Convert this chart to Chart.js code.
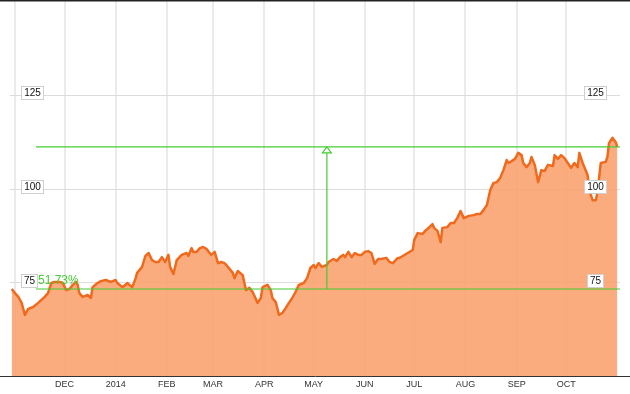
<!DOCTYPE html>
<html><head><meta charset="utf-8">
<script src="https://cdn.jsdelivr.net/npm/chart.js@4.4.1/dist/chart.umd.min.js"></script>
<style>html,body{margin:0;padding:0;background:#fff;overflow:hidden}#wrap{position:relative;width:630px;height:394px}</style>
</head><body><div id="wrap"><canvas id="c" width="630" height="394"></canvas></div>
<script>
const dates = [
'2013-10-30','2013-11-01','2013-11-03','2013-11-05','2013-11-07','2013-11-09','2013-11-12','2013-11-15','2013-11-17','2013-11-19',
'2013-11-21','2013-11-23','2013-11-25','2013-11-28','2013-11-30','2013-12-02','2013-12-04','2013-12-06','2013-12-08','2013-12-09',
'2013-12-10','2013-12-12','2013-12-15','2013-12-17','2013-12-18','2013-12-21','2013-12-23','2013-12-26','2013-12-29','2014-01-01',
'2014-01-02','2014-01-05','2014-01-07','2014-01-08','2014-01-11','2014-01-13','2014-01-14','2014-01-17','2014-01-19','2014-01-21',
'2014-01-23','2014-01-25','2014-01-27','2014-01-29','2014-01-31','2014-02-02','2014-02-03','2014-02-05','2014-02-07','2014-02-10',
'2014-02-13','2014-02-14','2014-02-16','2014-02-17','2014-02-19','2014-02-21','2014-02-23','2014-02-25','2014-02-27','2014-02-28',
'2014-03-02','2014-03-04','2014-03-06','2014-03-08','2014-03-10','2014-03-13','2014-03-14','2014-03-16','2014-03-19','2014-03-20',
'2014-03-21','2014-03-23','2014-03-25','2014-03-28','2014-03-30','2014-03-31','2014-04-03','2014-04-05','2014-04-06','2014-04-08',
'2014-04-10','2014-04-12','2014-04-14','2014-04-16','2014-04-18','2014-04-20','2014-04-22','2014-04-25','2014-04-27','2014-04-29',
'2014-05-01','2014-05-02','2014-05-04','2014-05-06','2014-05-09','2014-05-10','2014-05-13','2014-05-15','2014-05-17','2014-05-19',
'2014-05-20','2014-05-22','2014-05-24','2014-05-26','2014-05-28','2014-05-30','2014-06-01','2014-06-03','2014-06-05','2014-06-07',
'2014-06-09','2014-06-11','2014-06-14','2014-06-16','2014-06-18','2014-06-21','2014-06-22','2014-06-24','2014-06-27','2014-06-30',
'2014-07-01','2014-07-03','2014-07-06','2014-07-08','2014-07-09','2014-07-12','2014-07-13','2014-07-15','2014-07-17','2014-07-18',
'2014-07-21','2014-07-23','2014-07-25','2014-07-27','2014-07-29','2014-07-31','2014-08-03','2014-08-06','2014-08-08','2014-08-10',
'2014-08-12','2014-08-14','2014-08-16','2014-08-18','2014-08-20','2014-08-22','2014-08-24','2014-08-26','2014-08-27','2014-08-29',
'2014-08-31','2014-09-02','2014-09-04','2014-09-05','2014-09-07','2014-09-09','2014-09-10','2014-09-12','2014-09-14','2014-09-16',
'2014-09-18','2014-09-20','2014-09-23','2014-09-24','2014-09-26','2014-09-28','2014-09-30','2014-10-02','2014-10-04','2014-10-06',
'2014-10-08','2014-10-09','2014-10-11','2014-10-14','2014-10-15','2014-10-17','2014-10-19','2014-10-20','2014-10-22','2014-10-25',
'2014-10-26','2014-10-27','2014-10-29','2014-10-31','2014-11-01'
];
const prices = [
73.2,72.1,71.1,69.5,66.3,67.9,68.4,69.5,70.3,71.1,
72.1,74.8,75.1,75.1,74.8,72.9,73.2,74.3,75.1,74.3,
72.1,71.1,71.6,70.8,73.7,74.8,75.3,75.6,75.1,75.6,
74.8,73.7,74.3,74.8,73.7,75.9,77.5,79.1,82.0,82.8,
80.9,80.4,80.4,81.7,80.4,82.3,79.1,77.2,80.9,82.3,
82.8,82.0,84.1,83.1,83.1,84.1,84.4,83.9,82.8,82.3,
83.1,80.1,80.4,80.1,79.1,77.5,76.1,78.0,76.9,74.8,
72.9,73.5,72.4,69.5,70.8,73.7,74.3,72.9,70.8,69.7,
66.3,66.8,68.1,69.5,70.8,72.4,74.3,74.8,76.1,78.8,
79.6,78.8,80.1,79.1,79.6,80.4,81.2,80.7,81.7,82.3,
81.7,83.1,81.7,82.8,82.3,82.3,83.1,83.3,82.8,79.9,
81.2,81.2,81.5,80.4,80.1,81.5,81.5,82.0,82.8,83.6,
86.3,88.1,87.9,88.9,89.2,90.5,89.5,88.7,85.7,89.5,
89.7,90.8,90.8,92.1,94.0,92.1,92.7,92.9,93.2,93.2,
94.3,95.6,99.6,101.5,101.7,102.8,104.9,107.6,106.8,107.3,
107.9,109.5,108.9,106.8,105.7,106.8,108.4,106.3,101.7,104.9,
104.7,106.3,106.0,108.9,107.9,108.9,108.1,106.8,105.5,106.8,
105.7,109.5,106.8,103.6,99.6,96.9,96.9,99.1,106.8,107.1,
108.4,112.1,113.5,112.4,111.1
];
const monthStarts = ['2013-11-01','2013-12-01','2014-01-01','2014-02-01','2014-03-01','2014-04-01','2014-05-01','2014-06-01','2014-07-01','2014-08-01','2014-09-01','2014-10-01'];
const monthLabels = ['','DEC','2014','FEB','MAR','APR','MAY','JUN','JUL','AUG','SEP','OCT'];
const yTicks = [75,100,125];
const yRange = [50,150];
const lowLevel = 73.2;
const highLevel = 111.1;
const changeLabel = '51.73%';
const markerDate = '2014-05-09';

const dayMs = 86400000;
const t0 = Date.UTC(2013,10,1);
const toDay = s => (Date.parse(s + 'T00:00:00Z') - t0) / dayMs;
const monthDays = monthStarts.map(toDay);
const points = dates.map((d,i)=>({x:toDay(d), y:prices[i]}));

const FONT = '"Liberation Sans", Arial, sans-serif';
const GREEN = '#44cc33';

function box(ctx, x, cy, text, align){
  ctx.font = '10px "Liberation Sans Narrow", "Liberation Sans", Arial, sans-serif';
  const w = ctx.measureText(text).width + 5;
  const h = 13;
  const left = align === 'left' ? x : x - w/2;
  const top = Math.round(cy - 8.5);
  ctx.fillStyle = '#fff';
  ctx.fillRect(Math.round(left)+0.5, top+0.5, Math.round(w), h);
  ctx.strokeStyle = '#cfcfcf';
  ctx.lineWidth = 1;
  ctx.strokeRect(Math.round(left)+0.5, top+0.5, Math.round(w), h);
  ctx.fillStyle = '#111';
  ctx.textAlign = 'center';
  ctx.textBaseline = 'middle';
  ctx.fillText(text, Math.round(left) + 0.5 + Math.round(w)/2, top + 0.5 + h/2 + 0.5);
}

const overlay = {
  id: 'overlay',
  beforeDatasetsDraw(chart){
    const {ctx, chartArea:a, scales:{y}} = chart;
    ctx.save();
    ctx.strokeStyle = '#dcdcdc';
    ctx.lineWidth = 1;
    yTicks.forEach(v=>{
      const py = Math.round(y.getPixelForValue(v)) + 0.5;
      ctx.beginPath(); ctx.moveTo(a.left+10, py); ctx.lineTo(a.right-10, py); ctx.stroke();
    });
    ctx.restore();
  },
  afterDatasetsDraw(chart){
    const {ctx, chartArea:a, scales:{x,y}} = chart;
    ctx.save();
    ctx.fillStyle = '#222';
    ctx.fillRect(0, 0, chart.width, 1.5);
    const yl = y.getPixelForValue(lowLevel), yh = y.getPixelForValue(highLevel);
    ctx.strokeStyle = GREEN; ctx.lineWidth = 1.2;
    [yl, yh].forEach(py=>{ ctx.beginPath(); ctx.moveTo(a.left+36, py); ctx.lineTo(a.right-10, py); ctx.stroke(); });
    const mx = x.getPixelForValue(toDay(markerDate));
    ctx.beginPath(); ctx.moveTo(mx, yl); ctx.lineTo(mx, yh+5); ctx.stroke();
    ctx.beginPath(); ctx.moveTo(mx, yh); ctx.lineTo(mx-4.5, yh+6); ctx.lineTo(mx+4.5, yh+6); ctx.closePath();
    ctx.fillStyle = '#fff'; ctx.fill(); ctx.stroke();
    ctx.fillStyle = GREEN; ctx.font = '12px ' + FONT; ctx.textAlign = 'left'; ctx.textBaseline = 'alphabetic';
    ctx.fillText(changeLabel, a.left+38, yl-5.5);
    yTicks.forEach(v=>{
      const py = y.getPixelForValue(v);
      box(ctx, a.left+21, py, String(v), 'left');
      box(ctx, a.right-35, py, String(v), 'center');
    });
    ctx.restore();
  }
};

new Chart(document.getElementById('c'), {
  type: 'line',
  data: { datasets: [{
    data: points,
    borderColor: '#f06a1e',
    borderWidth: 2.5,
    borderJoinStyle: 'round',
    backgroundColor: 'rgba(251,160,108,0.88)',
    fill: 'start',
    pointRadius: 0,
    tension: 0
  }]},
  options: {
    responsive: false,
    animation: false,
    devicePixelRatio: 1,
    layout: { padding: { top: 1, left: 0, right: 0, bottom: 0 } },
    plugins: { legend: { display: false }, tooltip: { enabled: false } },
    scales: {
      x: {
        type: 'linear',
        min: -9.1, max: 372.7,
        afterBuildTicks: s => { s.ticks = monthDays.map(v=>({value:v})); },
        afterFit: s => { s.height = 18; },
        grid: { color: '#ebebeb', lineWidth: 2, drawTicks: false },
        border: { display: true, color: '#333', width: 1 },
        ticks: {
          autoSkip: false, maxRotation: 0, padding: 3,
          color: '#333', font: { family: FONT, size: 9 },
          callback: (v, i) => monthLabels[i]
        }
      },
      y: { display: false, min: yRange[0], max: yRange[1] }
    }
  },
  plugins: [overlay]
});
</script></body></html>
